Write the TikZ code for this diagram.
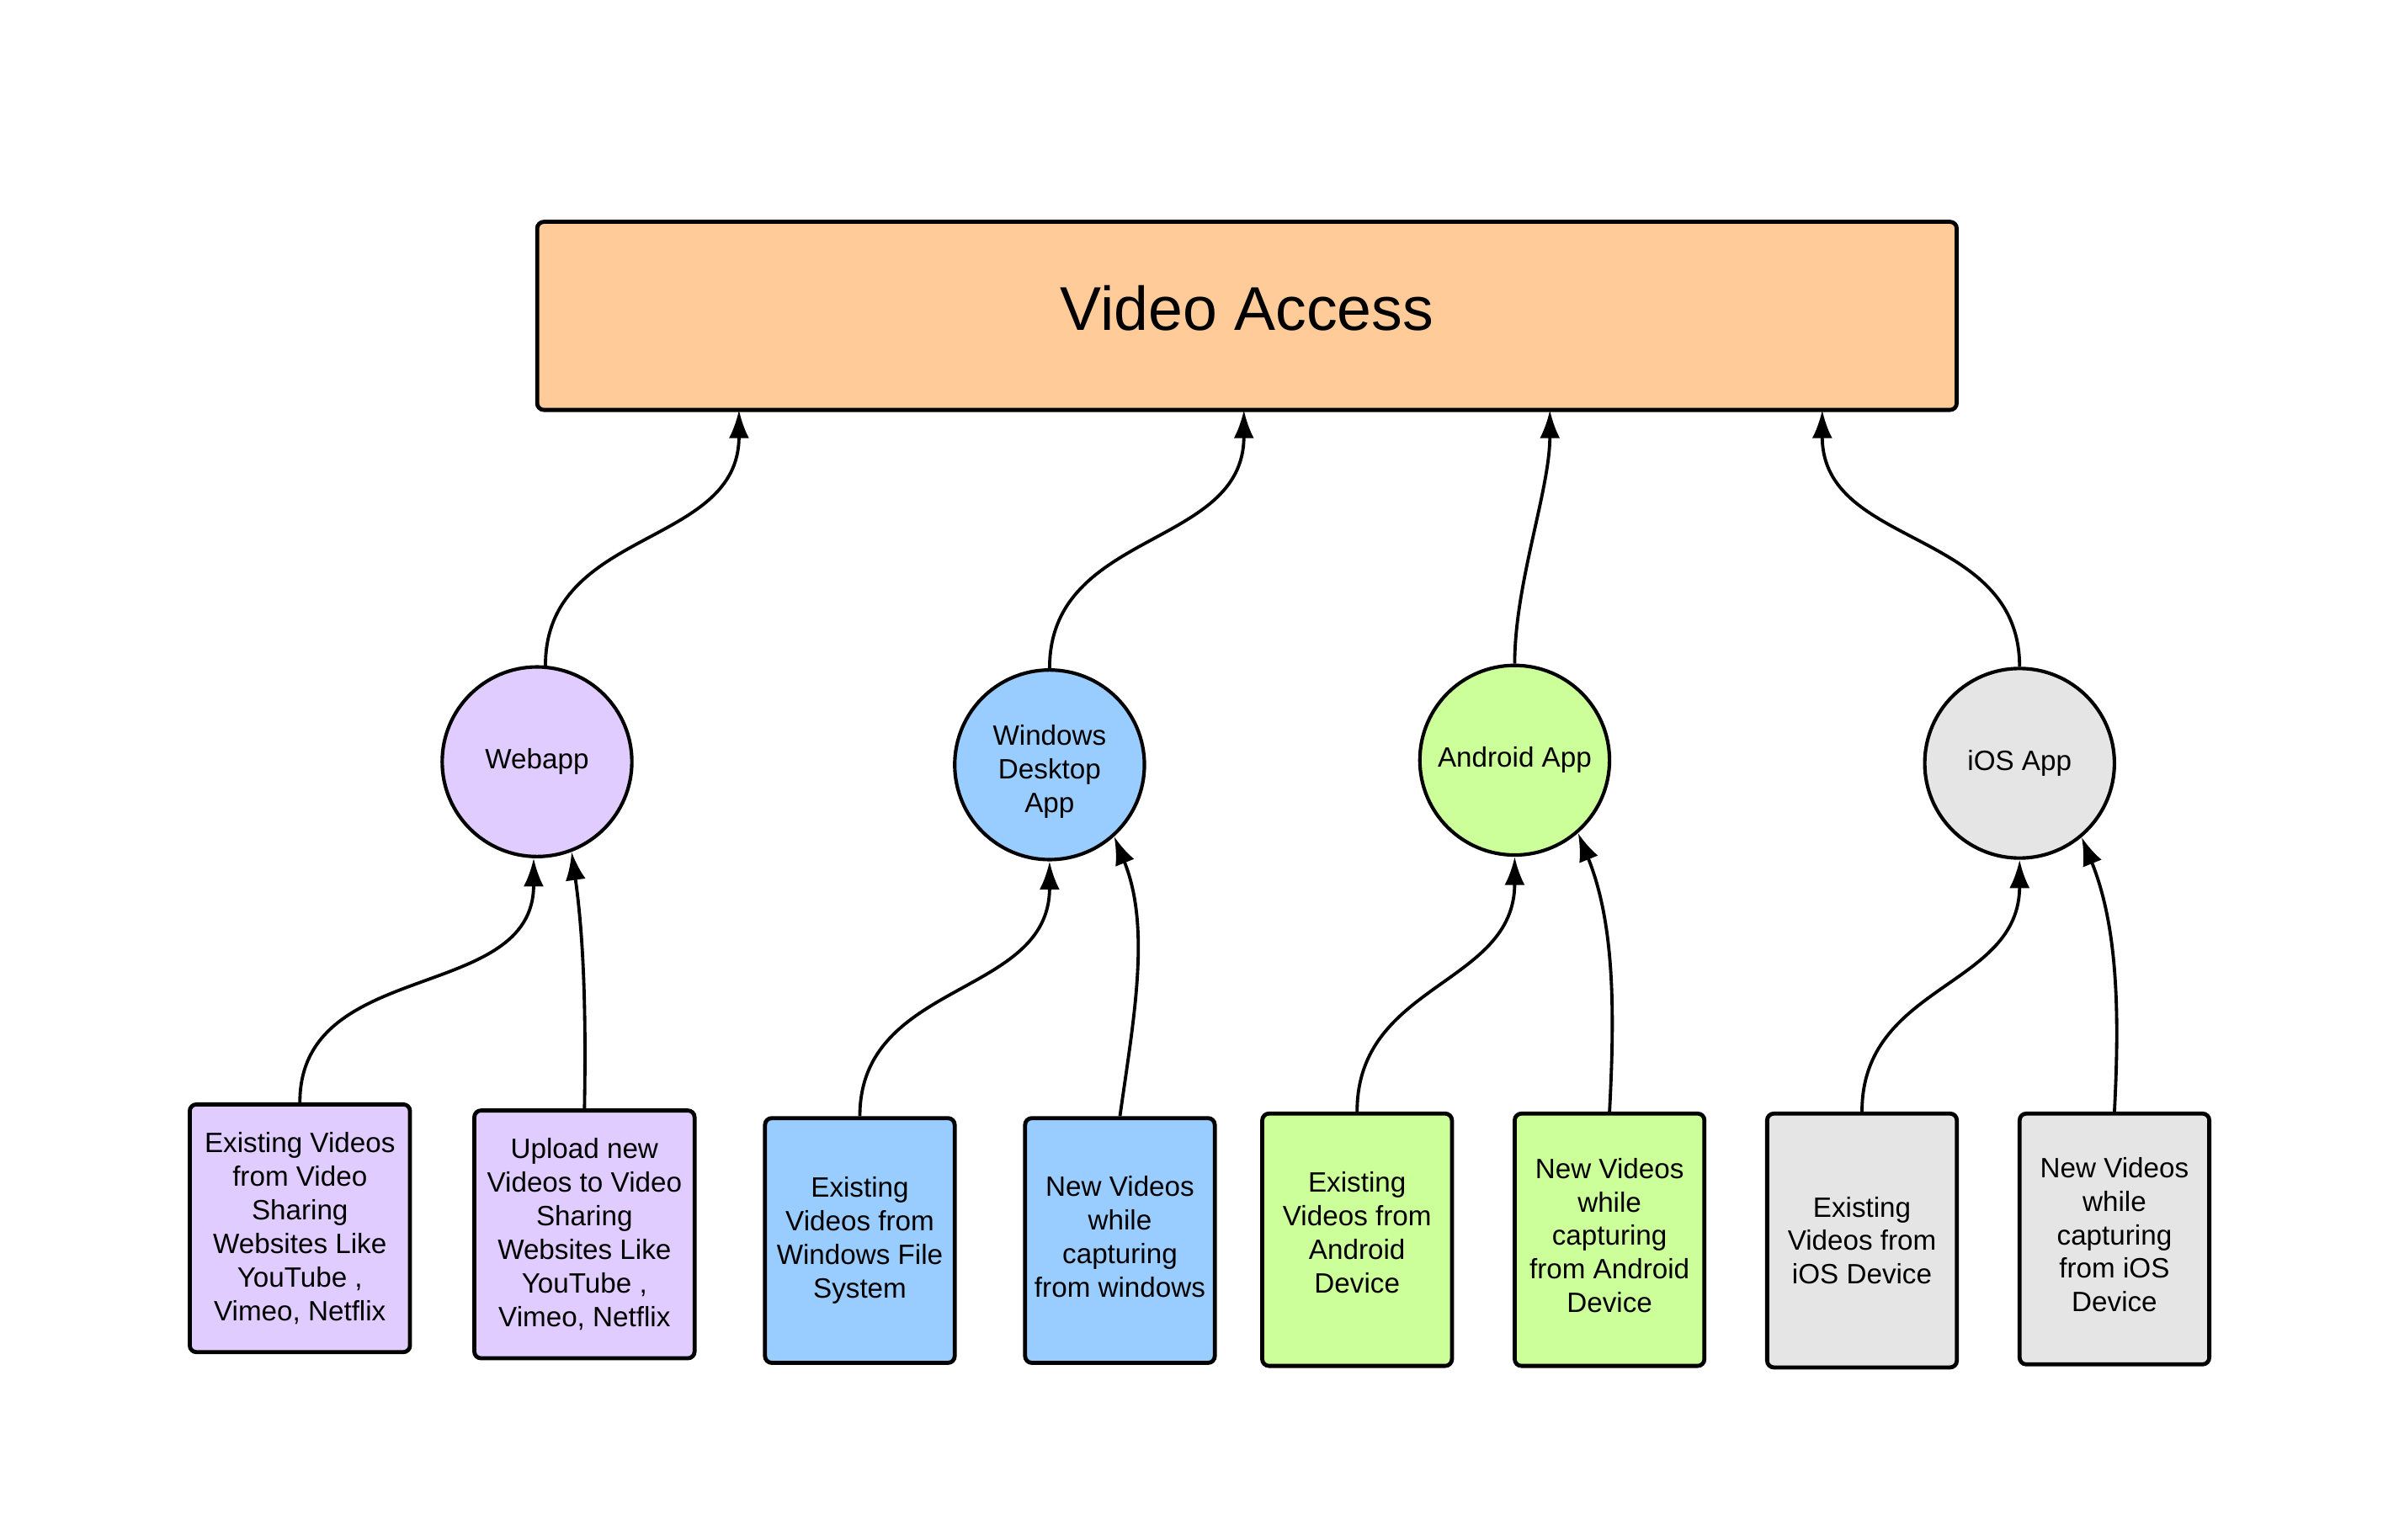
\documentclass[tikz,border=0pt]{standalone}
\usepackage{fontspec}
\setmainfont{Liberation Sans}
\usetikzlibrary{arrows.meta}
\definecolor{orangefill}{HTML}{FFCC99}
\definecolor{purplefill}{HTML}{E1CCFF}
\definecolor{bluefill}{HTML}{99CCFF}
\definecolor{greenfill}{HTML}{CCFF99}
\definecolor{grayfill}{HTML}{E5E5E5}
\tikzset{
  box/.style={draw=black, line width=1.5pt, rounded corners=2.5pt, align=center,
    font=\fontsize{10.4}{12.5}\selectfont, inner sep=0pt},
  app/.style={draw=black, line width=1.3pt, circle, minimum size=2.48cm, align=center,
    font=\fontsize{10.4}{12.5}\selectfont, inner sep=0pt},
  lab/.style={align=center, font=\fontsize{10.4}{12.5}\selectfont, inner sep=0pt},
  conn/.style={draw=black, line width=1.2pt, -{Latex[length=10.5pt,width=7.5pt]}},
}
\begin{document}
\begin{tikzpicture}[x=0.02cm, y=-0.02cm]
\useasboundingbox (0,0) rectangle (1568,1006.8);
% top box
\node[box, fill=orangefill, minimum width=18.56cm, minimum height=2.46cm,
  label={[lab, font=\fontsize{23}{27}\selectfont, yshift=2.8pt]center:Video Access}]
  (top) at (815,206.5) {};
% apps
\node[app, fill=purplefill] (web) at (351,498) {Webapp};
\node[app, fill=bluefill, label={[lab, yshift=-2.6pt]center:Windows\\Desktop\\App}]
  (win) at (686,500) {};
\node[app, fill=greenfill] (andr) at (990,497) {Android App};
\node[app, fill=grayfill] (ios) at (1320,499) {iOS App};
% leaf boxes
\node[box, fill=purplefill, minimum width=2.88cm, minimum height=3.24cm] (b1) at (196,803)
  {Existing Videos\\from Video\\Sharing\\Websites Like\\YouTube ,\\Vimeo, Netflix};
\node[box, fill=purplefill, minimum width=2.88cm, minimum height=3.24cm] (b2) at (382,807)
  {Upload new\\Videos to Video\\Sharing\\Websites Like\\YouTube ,\\Vimeo, Netflix};
\node[box, fill=bluefill, minimum width=2.48cm, minimum height=3.2cm] (b3) at (562,811)
  {Existing\\Videos from\\Windows File\\System};
\node[box, fill=bluefill, minimum width=2.48cm, minimum height=3.2cm,
  label={[lab, yshift=1.4pt]center:New Videos\\while\\capturing\\from windows}]
  (b4) at (732,811) {};
\node[box, fill=greenfill, minimum width=2.48cm, minimum height=3.3cm,
  label={[lab, yshift=2.6pt]center:Existing\\Videos from\\Android\\Device}]
  (b5) at (887,810.5) {};
\node[box, fill=greenfill, minimum width=2.48cm, minimum height=3.3cm,
  label={[lab, yshift=1.6pt]center:New Videos\\while\\capturing\\from Android\\Device}]
  (b6) at (1052,810.5) {};
\node[box, fill=grayfill, minimum width=2.48cm, minimum height=3.32cm] (b7) at (1217,811)
  {Existing\\Videos from\\iOS Device};
\node[box, fill=grayfill, minimum width=2.48cm, minimum height=3.28cm,
  label={[lab, yshift=1.6pt]center:New Videos\\while\\capturing\\from iOS\\Device}]
  (b8) at (1382,810) {};
% arrow end points on the top box
\coordinate (t1) at (483,268);
\coordinate (t2) at (813,268);
\coordinate (t3) at (1013,268);
\coordinate (t4) at (1191,268);
% apps to top
\draw[conn] (web.85) to[out=90,in=-90,looseness=1.1] (t1);
\draw[conn] (win.north) to[out=90,in=-90,looseness=1.1] (t2);
\draw[conn] (andr.north) to[out=90,in=-90,looseness=0.8] (t3);
\draw[conn] (ios.north) to[out=90,in=-90,looseness=1.1] (t4);
% leaves to apps
\draw[conn] (b1.north) to[out=90,in=-90,looseness=1.1] (web.-92);
\draw[conn] (b2.north) to[out=89,in=-82,looseness=0.9] (web.-69);
\draw[conn] (b3.north) to[out=90,in=-90,looseness=1.1] (win.south);
\draw[conn] (b4.north) to[out=82,in=-68,looseness=0.9] (win.-48);
\draw[conn] (b5.north) to[out=90,in=-90,looseness=1.1] (andr.south);
\draw[conn] (b6.north) to[out=87,in=-68,looseness=0.9] (andr.-49);
\draw[conn] (b7.north) to[out=90,in=-90,looseness=1.1] (ios.south);
\draw[conn] (b8.north) to[out=87,in=-68,looseness=0.9] (ios.-50);
\end{tikzpicture}
\end{document}
